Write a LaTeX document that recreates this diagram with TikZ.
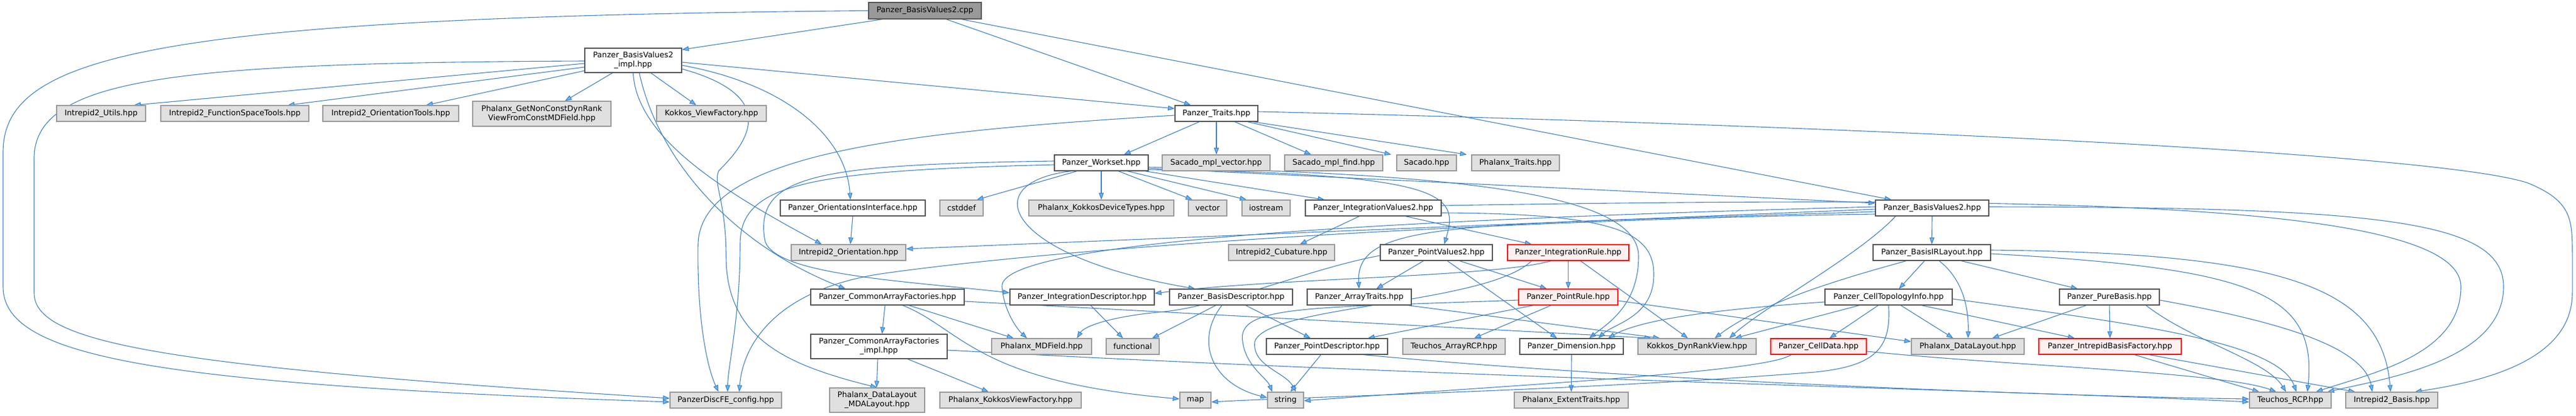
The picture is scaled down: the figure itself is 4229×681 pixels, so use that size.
\documentclass[tikz,border=0pt]{standalone}
\usepackage{fontspec}
\setmainfont{DejaVu Sans}
\usetikzlibrary{arrows.meta}
\definecolor{edgec}{HTML}{3F80C4}
\definecolor{tipc}{HTML}{63B8FF}
\definecolor{graybg}{HTML}{E0E0E0}
\definecolor{grayln}{HTML}{999999}
\definecolor{rootbg}{HTML}{999999}
\definecolor{darkln}{HTML}{555555}
\definecolor{redbg}{HTML}{FFF0F0}
\pgfdeclarelayer{bg}
\pgfsetlayers{bg,main}
\begin{document}
\begin{tikzpicture}[x=1pt,y=-1pt,
  box/.style={draw=darkln, fill=white, line width=1.2pt, minimum height=26, inner sep=0pt, font=\fontsize{12.7}{15}\selectfont, align=center},
  gbox/.style={box, draw=grayln, fill=graybg},
  rbox/.style={box, draw=red, fill=redbg},
  rootbox/.style={box, draw=darkln, fill=rootbg},
  edg/.style={draw=edgec, line width=1.1pt, -{Triangle[length=11pt,width=8pt,fill=tipc]}}]
\useasboundingbox (0,0) rectangle (4229,681);
% row 1-2
\node[rootbox, minimum width=185, minimum height=27] (cpp) at (1518.5,17.5) {Panzer\_BasisValues2.cpp};
\node[box, minimum width=159, minimum height=40] (impl) at (1039.5,99) {Panzer\_BasisValues2\\\_impl.hpp};
% row 3
\node[gbox, minimum width=146] (utils) at (166,186) {Intrepid2\_Utils.hpp};
\node[gbox, minimum width=243] (fst) at (385.5,186) {Intrepid2\_FunctionSpaceTools.hpp};
\node[gbox, minimum width=223] (otools) at (641.5,186) {Intrepid2\_OrientationTools.hpp};
\node[gbox, minimum width=227, minimum height=41] (getnc) at (889.5,186.5) {Phalanx\_GetNonConstDynRank\\ViewFromConstMDField.hpp};
\node[gbox, minimum width=180] (kvf) at (1168,186) {Kokkos\_ViewFactory.hpp};
\node[box, minimum width=136] (traits) at (1997,186) {Panzer\_Traits.hpp};
% row 4
\node[box, minimum width=154] (ws) at (1808,267) {Panzer\_Workset.hpp};
\node[gbox, minimum width=177] (smv) at (1996.5,267) {Sacado\_mpl\_vector.hpp};
\node[gbox, minimum width=161] (smf) at (2189.5,267) {Sacado\_mpl\_find.hpp};
\node[gbox, minimum width=98] (sacado) at (2342,267) {Sacado.hpp};
\node[gbox, minimum width=144] (ptraits) at (2488,267) {Phalanx\_Traits.hpp};
% row 5
\node[box, minimum width=238] (oif) at (1400,341) {Panzer\_OrientationsInterface.hpp};
\node[gbox, minimum width=71] (cstddef) at (1578.5,341) {cstddef};
\node[gbox, minimum width=238] (kdt) at (1808,341) {Phalanx\_KokkosDeviceTypes.hpp};
\node[gbox, minimum width=63] (vector) at (1982.5,341) {vector};
\node[gbox, minimum width=79] (iostream) at (2078.5,341) {iostream};
\node[box, minimum width=223] (iv2) at (2254.5,341) {Panzer\_IntegrationValues2.hpp};
\node[box, minimum width=186] (bv2) at (3172,341) {Panzer\_BasisValues2.hpp};
% row 6
\node[gbox, minimum width=188] (iorient) at (1393,414) {Intrepid2\_Orientation.hpp};
\node[gbox, minimum width=174] (cub) at (2104,414) {Intrepid2\_Cubature.hpp};
\node[box, minimum width=184] (pv2) at (2358,414) {Panzer\_PointValues2.hpp};
\node[rbox, minimum width=199] (irule) at (2574.5,414) {Panzer\_IntegrationRule.hpp};
\node[box, minimum width=193] (birl) at (3171.5,414) {Panzer\_BasisIRLayout.hpp};
% row 7
\node[box, minimum width=252] (caf) at (1457,487) {Panzer\_CommonArrayFactories.hpp};
\node[box, minimum width=237] (idesc) at (1776.5,487) {Panzer\_IntegrationDescriptor.hpp};
\node[box, minimum width=202] (bdesc) at (2021,487) {Panzer\_BasisDescriptor.hpp};
\node[box, minimum width=171] (atraits) at (2231.5,487) {Panzer\_ArrayTraits.hpp};
\node[rbox, minimum width=163] (prule) at (2574.5,487) {Panzer\_PointRule.hpp};
\node[box, minimum width=209] (cti) at (3100.5,487) {Panzer\_CellTopologyInfo.hpp};
\node[box, minimum width=164] (pbasis) at (3463,487) {Panzer\_PureBasis.hpp};
% row 8
\node[box, minimum width=224, minimum height=40] (cafi) at (1443,568) {Panzer\_CommonArrayFactories\\\_impl.hpp};
\node[gbox, minimum width=164] (mdfield) at (1710,568) {Phalanx\_MDField.hpp};
\node[gbox, minimum width=87] (functional) at (1859.5,568) {functional};
\node[box, minimum width=199] (pdesc) at (2178.5,568) {Panzer\_PointDescriptor.hpp};
\node[gbox, minimum width=168] (tarcp) at (2387,568) {Teuchos\_ArrayRCP.hpp};
\node[box, minimum width=170] (dim) at (2580,568) {Panzer\_Dimension.hpp};
\node[gbox, minimum width=194] (kdrv) at (2786,568) {Kokkos\_DynRankView.hpp};
\node[rbox, minimum width=157] (celldata) at (2985.5,568) {Panzer\_CellData.hpp};
\node[gbox, minimum width=185] (pdl) at (3230.5,568) {Phalanx\_DataLayout.hpp};
\node[rbox, minimum width=234] (ibf) at (3464,568) {Panzer\_IntrepidBasisFactory.hpp};
% row 9
\node[gbox, minimum width=183] (discfe) at (1191.5,656) {PanzerDiscFE\_config.hpp};
\node[gbox, minimum width=156, minimum height=40] (mdal) at (1440,656) {Phalanx\_DataLayout\\\_MDALayout.hpp};
\node[gbox, minimum width=232] (kvf2) at (1659,656) {Phalanx\_KokkosViewFactory.hpp};
\node[gbox, minimum width=51] (map) at (1962.5,656) {map};
\node[gbox, minimum width=59] (string) at (2110.5,656) {string};
\node[gbox, minimum width=187] (extent) at (2579.5,656) {Phalanx\_ExtentTraits.hpp};
\node[gbox, minimum width=134] (trcp) at (3760,656) {Teuchos\_RCP.hpp};
\node[gbox, minimum width=151] (ibasis) at (3926.5,656) {Intrepid2\_Basis.hpp};

\begin{pgfonlayer}{bg}
% cpp
\draw[edg] ([xshift=-70]cpp.south) -- ([yshift=-3]impl.north east);
\draw[edg] ([xshift=35]cpp.south) -- ([xshift=-42]traits.north);
\draw[edg] ([xshift=60]cpp.south) -- ([xshift=-67]bv2.north);
\draw[edg] (cpp.west) .. controls (250,28) and (5,90) .. (5,250) -- (5,470) .. controls (5,585) and (250,630) .. ([yshift=-3]discfe.west);
% impl
\draw[edg] ([yshift=-1]impl.west) .. controls (300,103) and (56,125) .. (56,260) -- (56,480) .. controls (56,560) and (250,600) .. ([yshift=3]discfe.west);
\draw[edg] ([yshift=-5]impl.west) -- ([xshift=54]utils.north);
\draw[edg] ([yshift=-11]impl.west) -- ([xshift=87]fst.north);
\draw[edg] ([yshift=-17]impl.west) -- ([xshift=58]otools.north);
\draw[edg] ([xshift=-34]impl.south) -- ([xshift=38]getnc.north);
\draw[edg] ([xshift=29]impl.south) -- ([xshift=-25]kvf.north);
\draw[edg] ([yshift=-3]impl.east) -- ([yshift=8]traits.west);
\draw[edg] ([yshift=-8]impl.east) .. controls (1300,140) and (1390,230) .. ([xshift=-4]oif.north);
\draw[edg] (impl.south) .. controls (1045,230) and (1200,320) .. ([xshift=-44]iorient.north);
\draw[edg] ([xshift=10]impl.south) .. controls (1080,260) and (1200,400) .. ([xshift=-69]caf.north);
\draw[edg] ([yshift=-14]impl.east) .. controls (1290,160) and (1220,240) .. (1180,280) .. controls (1170,300) and (1192,330) .. (1192,420) .. controls (1192,560) and (1300,600) .. (mdal.north);
% traits
\draw[edg] ([xshift=-28]traits.south) -- ([xshift=37]ws.north);
\draw[edg] (traits.south) -- ([xshift=0.5]smv.north);
\draw[edg] ([xshift=30]traits.south) -- ([xshift=-37]smf.north);
\draw[edg] ([xshift=51]traits.south) -- ([xshift=-58]sacado.north);
\draw[edg] ([xshift=60]traits.south) -- ([xshift=-80]ptraits.north);
\draw[edg] ([yshift=-3]traits.west) .. controls (1500,215) and (1150,250) .. (1146,400) .. controls (1144,520) and (1160,600) .. ([xshift=-12]discfe.north);
\draw[edg] ([yshift=3]traits.east) .. controls (3000,205) and (4000,250) .. (4150,300) .. controls (4223,330) and (4223,360) .. (4223,420) -- (4223,480) .. controls (4223,590) and (4080,625) .. ([xshift=38]ibasis.north);
% workset
\draw[edg] ([xshift=-40]ws.south) -- ([xshift=25]cstddef.north);
\draw[edg] (ws.south) -- (kdt.north);
\draw[edg] ([xshift=28]ws.south) -- ([xshift=-25]vector.north);
\draw[edg] ([xshift=43]ws.south) -- ([xshift=-32]iostream.north);
\draw[edg] ([xshift=72]ws.south) -- ([xshift=-80]iv2.north);
\draw[edg] ([xshift=-50]ws.south) .. controls (1600,300) and (1650,420) .. ([xshift=-59]bdesc.north);
\draw[edg] ([yshift=3]ws.west) .. controls (1350,270) and (1240,285) .. (1255,390) .. controls (1260,450) and (1480,460) .. ([yshift=7]idesc.west);
\draw[edg] ([yshift=-3]ws.west) .. controls (1330,280) and (1215,300) .. (1215,400) .. controls (1215,520) and (1195,600) .. ([xshift=3]discfe.north);
\draw[edg] ([yshift=-9]ws.east) -- ([yshift=8]bv2.west);
\draw[edg] ([yshift=-11]ws.east) .. controls (2380,285) and (2395,320) .. ([xshift=13]pv2.north);
\draw[edg] ([yshift=-7]ws.east) .. controls (2350,285) and (2690,310) .. (2690,420) .. controls (2690,500) and (2640,530) .. ([xshift=29]dim.north);
% integration values
\draw[edg] ([xshift=-23]iv2.south) -- ([xshift=30]cub.north);
\draw[edg] ([xshift=53]iv2.south) -- ([xshift=-60]irule.north);
\draw[edg] ([yshift=-8]iv2.east) .. controls (2650,350) and (2715,380) .. (2715,450) .. controls (2715,520) and (2650,530) .. ([xshift=44]dim.north);
\draw[edg] ([yshift=4]iv2.east) .. controls (3300,322) and (4040,325) .. (4040,470) .. controls (4040,580) and (3900,610) .. ([xshift=42]trcp.north);
% point values
\draw[edg] ([xshift=-21]pv2.south) -- ([xshift=28]atraits.north);
\draw[edg] ([xshift=38]pv2.south) -- ([xshift=-35]prule.north);
\draw[edg] ([xshift=18]pv2.south) -- ([xshift=-24]dim.north);
\draw[edg] ([yshift=-5]pv2.west) .. controls (2150,440) and (2000,505) .. (1900,512) .. controls (1820,520) and (1780,535) .. ([xshift=58]mdfield.north);
% integration rule
\draw[edg] (irule.south) -- (prule.north);
\draw[edg] ([xshift=20]irule.south) -- ([xshift=-15]kdrv.north);
\draw[edg] ([xshift=-28]irule.south) .. controls (2450,455) and (2100,455) .. ([yshift=6]idesc.east);
\draw[edg] ([xshift=-60]irule.south) .. controls (2440,500) and (2080,500) .. (2060,560) .. controls (2055,600) and (2110,610) .. ([xshift=17]string.north);
% point rule
\draw[edg] ([xshift=-57]prule.south) -- ([xshift=67]pdesc.north);
\draw[edg] ([xshift=-28]prule.south) -- ([xshift=33]tarcp.north);
\draw[edg] ([yshift=-6]prule.east) -- ([yshift=8]pdl.west);
\draw[edg] ([yshift=-5]prule.west) .. controls (2150,505) and (2030,500) .. (2040,560) .. controls (2045,600) and (2080,620) .. ([xshift=-22]string.north);
% dimension, descriptors
\draw[edg] (dim.south) -- (extent.north);
\draw[edg] ([xshift=-10]pdesc.south) -- ([xshift=8]string.north);
\draw[edg] ([xshift=60]pdesc.south) .. controls (2700,625) and (3400,650) .. ([yshift=2]trcp.west);
\draw[edg] ([xshift=-25]bdesc.south) -- ([xshift=32]functional.north);
\draw[edg] ([xshift=-15]bdesc.south) .. controls (1960,560) and (1990,630) .. ([yshift=4]string.west);
\draw[edg] ([xshift=24]bdesc.south) -- ([xshift=-27]pdesc.north);
\draw[edg] ([xshift=14]idesc.south) -- ([xshift=-16]functional.north);
\draw[edg] ([xshift=80]atraits.south) -- ([xshift=-61]kdrv.north);
% common array factories
\draw[edg] ([xshift=-4]caf.south) -- ([xshift=5]cafi.north);
\draw[edg] ([xshift=35]caf.south) -- ([xshift=-46]mdfield.north);
\draw[edg] ([xshift=25]caf.south) .. controls (1580,540) and (1600,625) .. ([yshift=2]map.west);
\draw[edg] ([yshift=-7]caf.east) -- ([xshift=-75]kdrv.north);
\draw[edg] ([xshift=-2]cafi.south) -- ([xshift=-1]mdal.north);
\draw[edg] ([xshift=47]cafi.south) -- ([xshift=-36]kvf2.north);
\draw[edg] ([yshift=-6]cafi.east) .. controls (2400,620) and (3300,640) .. ([yshift=-3]trcp.west);
% orientations
\draw[edg] (oif.south) -- ([xshift=3]iorient.north);
% basis values
\draw[edg] (bv2.south) -- (birl.north);
\draw[edg] ([yshift=-2]bv2.west) -- ([yshift=6]iorient.east);
\draw[edg] ([yshift=2]bv2.west) .. controls (2200,362) and (1640,400) .. (1645,470) .. controls (1648,510) and (1670,540) .. ([xshift=-24]mdfield.north);
\draw[edg] ([yshift=-6]bv2.west) .. controls (2400,370) and (2225,360) .. ([xshift=-0.5]atraits.north);
\draw[edg] ([yshift=-10]bv2.west) .. controls (2500,360) and (1800,400) .. (1460,447) .. controls (1280,470) and (1220,560) .. ([xshift=22]discfe.north);
\draw[edg] ([xshift=-60]bv2.south) .. controls (3050,420) and (2900,500) .. ([xshift=53]kdrv.north);
\draw[edg] ([yshift=2]bv2.east) .. controls (3900,340) and (4110,360) .. (4110,470) .. controls (4110,590) and (3920,620) .. ([xshift=61]trcp.north);
% basis IR layout
\draw[edg] ([xshift=-12]birl.south) -- ([xshift=17]cti.north);
\draw[edg] ([xshift=12]birl.south) .. controls (3225,460) and (3232,510) .. ([xshift=0.5]pdl.north);
\draw[edg] ([xshift=48]birl.south) -- ([xshift=-52]pbasis.north);
\draw[edg] ([xshift=-42]birl.south) .. controls (3050,450) and (2900,490) .. ([xshift=29]kdrv.north);
\draw[edg] ([yshift=-2]birl.east) .. controls (3700,440) and (3805,480) .. ([xshift=28]trcp.north);
\draw[edg] ([yshift=4]birl.east) .. controls (3750,415) and (3910,470) .. ([xshift=-2]ibasis.north);
% cell topology info
\draw[edg] ([xshift=-17]cti.south) -- ([xshift=18]celldata.north);
\draw[edg] ([xshift=20]cti.south) -- ([xshift=-24]pdl.north);
\draw[edg] ([xshift=54]cti.south) -- ([xshift=-58]ibf.north);
\draw[edg] ([xshift=-48]cti.south) -- ([xshift=62]kdrv.north);
\draw[edg] ([yshift=-8]cti.west) .. controls (2850,505) and (2700,520) .. ([xshift=60]dim.north);
\draw[edg] (cti.south) .. controls (3105,570) and (3080,600) .. (2980,610) .. controls (2600,640) and (2150,650) .. ([yshift=-3]map.east);
\draw[edg] ([yshift=-3]cti.east) .. controls (3500,530) and (3740,560) .. ([xshift=10]trcp.north);
% cell data
\draw[edg] ([xshift=-45]celldata.south) .. controls (2900,610) and (2500,630) .. ([yshift=-1]string.east);
\draw[edg] ([yshift=-8]celldata.east) .. controls (3300,600) and (3650,610) .. ([xshift=-23]trcp.north);
% pure basis
\draw[edg] ([xshift=-38]pbasis.south) -- ([xshift=40]pdl.north);
\draw[edg] (pbasis.south) -- (ibf.north);
\draw[edg] ([yshift=-5]pbasis.east) .. controls (3700,520) and (3880,560) .. ([xshift=-32]ibasis.north);
\draw[edg] ([xshift=60]pbasis.south) .. controls (3600,560) and (3720,590) .. ([xshift=-7]trcp.north);
% intrepid basis factory
\draw[edg] ([xshift=40]ibf.south) -- ([xshift=-51]trcp.north);
\draw[edg] ([xshift=64]ibf.south) -- ([xshift=-60]ibasis.north);
\end{pgfonlayer}
\end{tikzpicture}
\end{document}
